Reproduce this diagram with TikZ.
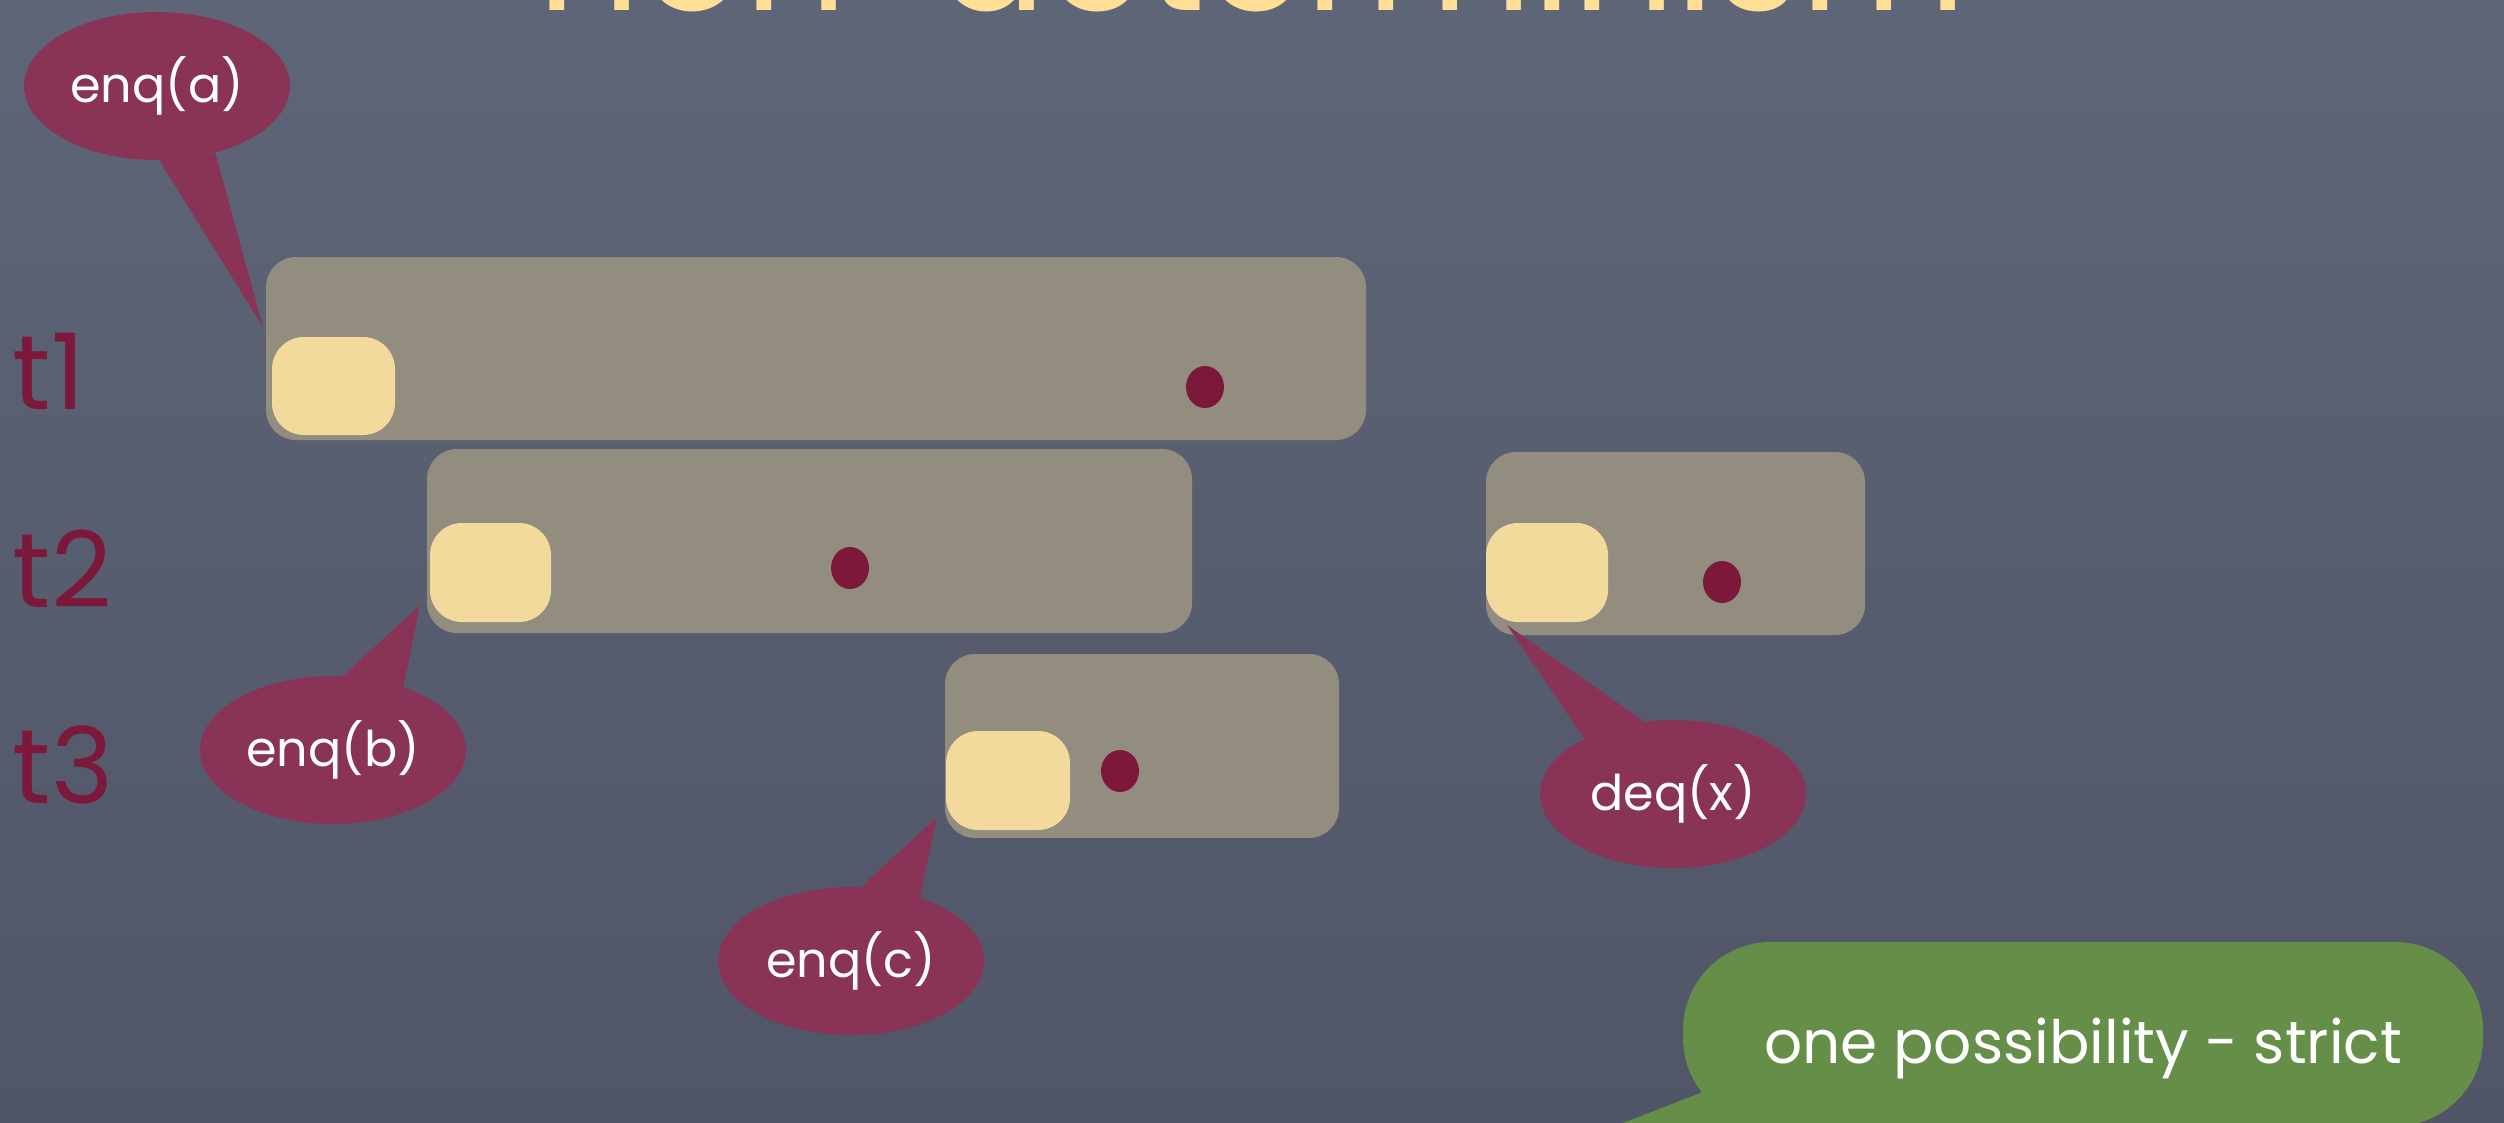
\documentclass[tikz,border=0pt]{standalone}
\usepackage{fontspec}
\setmainfont{Poppins}
\usetikzlibrary{shapes.geometric}
\definecolor{board}{RGB}{94,101,119}
\definecolor{boardlo}{RGB}{80,86,103}
\definecolor{slotgray}{RGB}{147,141,127}
\definecolor{headyellow}{RGB}{242,218,156}
\definecolor{dotred}{RGB}{124,24,58}
\definecolor{bubblered}{RGB}{137,52,86}
\definecolor{chalkgreen}{RGB}{101,143,72}
\definecolor{titleyellow}{RGB}{255,223,150}
\tikzset{
  slot/.style={fill=slotgray,rounded corners=3mm,inner sep=0pt},
  head/.style={fill=headyellow,rounded corners=3.2mm,inner sep=0pt},
  tdot/.style={fill=dotred,ellipse,minimum width=3.8mm,minimum height=4.2mm,inner sep=0pt},
  bubble/.style={ellipse,fill=bubblered,text=white,minimum width=26.6mm,minimum height=14.8mm,inner sep=0pt,font=\fontsize{14}{16}\selectfont},
  tlabel/.style={text=dotred,anchor=base west,inner sep=0pt,font=\fontsize{30}{32}\selectfont},
}
\begin{document}
\begin{tikzpicture}[x=0.1mm,y=-0.1mm]
%\draw[help lines] (0,0) grid[step=100] (2504,1122);
\useasboundingbox (0,0) rectangle (2504,1122);
\clip (0,0) rectangle (2504,1122);
\shade[top color=board,bottom color=boardlo] (0,0) rectangle (2504,1122);
\node[anchor=base west,text=titleyellow,inner sep=0pt,font=\fontsize{46}{48}\selectfont] (title) at (537,11) {non-determinism};
%
\node[tlabel] (t1) at (12,409) {t1};
\node[tlabel] (t2) at (12,607) {t2};
\node[tlabel] (t3) at (12,803) {t3};
%
% operation intervals
\node[slot,minimum width=110mm,minimum height=18.3mm] (slot1) at (816,348.5) {};
\node[slot,minimum width=76.5mm,minimum height=18.4mm] (slot2) at (809.5,541) {};
\node[slot,minimum width=39.4mm,minimum height=18.4mm] (slot3) at (1142,746) {};
\node[slot,minimum width=37.9mm,minimum height=18.3mm] (slotx) at (1675.5,543.5) {};
%
\node[head,minimum width=12.3mm,minimum height=9.8mm] (head1) at (333.5,386) {};
\node[head,minimum width=12.1mm,minimum height=9.9mm] (head2) at (490.5,572.5) {};
\node[head,minimum width=12.4mm,minimum height=9.9mm] (head3) at (1008,780.5) {};
\node[head,minimum width=12.2mm,minimum height=9.9mm] (headx) at (1547,572.5) {};
%
\node[tdot] (dot1) at (1205,387) {};
\node[tdot] (dot2) at (850,568) {};
\node[tdot] (dot3) at (1120,771) {};
\node[tdot] (dotx) at (1722,582) {};
%
% speech bubbles
\coordinate (tipA) at (263,327);
\coordinate (tipB) at (420,605);
\coordinate (tipC) at (937,817);
\coordinate (tipX) at (1507,625);
\node[bubble] (enqa) at (157,86) {enq(a)};
\node[bubble] (enqb) at (333,750) {enq(b)};
\node[bubble] (enqc) at (851,961) {enq(c)};
\node[bubble] (deqx) at (1673,794) {deq(x)};
\fill[bubblered] (enqa.-88) -- (tipA) -- (enqa.-49) -- cycle;
\fill[bubblered] (enqb.82) -- (tipB) -- (enqb.42) -- cycle;
\fill[bubblered] (enqc.82) -- (tipC) -- (enqc.43) -- cycle;
\fill[bubblered] (deqx.148) -- (tipX) -- (deqx.112) -- cycle;
%
\node[fill=chalkgreen,rounded corners=8.8mm,minimum width=80mm,minimum height=18.4mm,inner sep=0pt] (note) at (2083,1034) {};
\coordinate (noteA) at (1708,1090);
\coordinate (noteB) at (1800,1126);
\coordinate (tipN) at (1528,1160);
\fill[chalkgreen] (noteA) -- (tipN) -- (noteB) -- cycle;
\node[anchor=base,text=white,inner sep=0pt,font=\fontsize{17}{19}\selectfont] (notetext) at (2083,1063) {one possibility - strict};
\end{tikzpicture}
\end{document}
